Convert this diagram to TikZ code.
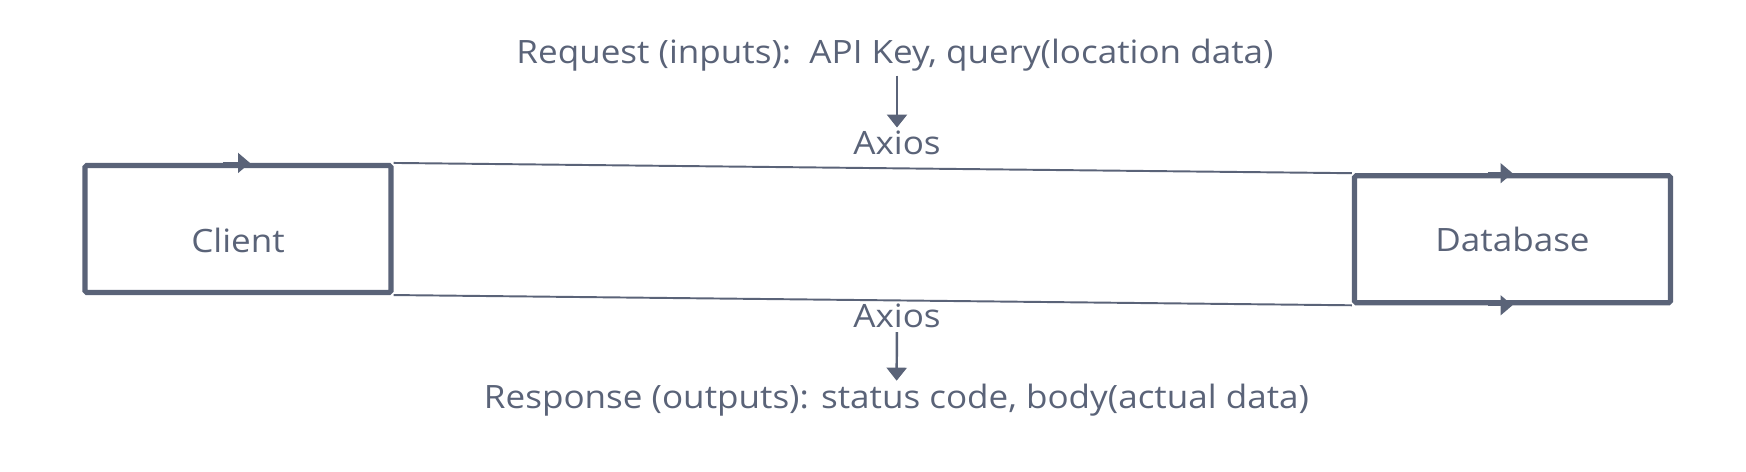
\documentclass[tikz,border=0pt]{standalone}
\usepackage{fontspec}
\setmainfont{Open Sans}[FakeStretch=1.09]
\usetikzlibrary{arrows.meta,positioning}
\definecolor{slateline}{HTML}{5A6378}
\tikzset{
  sysbox/.style={draw=slateline,line width=2.9pt,rounded corners=1pt,minimum height=2.54cm,inner sep=0pt,text=slateline,font=\fontsize{18.3}{22}\selectfont},
  lbl/.style={text=slateline,font=\fontsize{18.3}{22}\selectfont,inner sep=2pt},
  link/.style={draw=slateline,line width=1.1pt},
  flow/.style={-{Triangle[length=2.6mm,width=4mm]},draw=slateline,line width=1.4pt},
  edgeflow/.style={-{Triangle[length=2.4mm,width=4mm]},draw=slateline,line width=1pt},
}
\begin{document}
\begin{tikzpicture}
  \useasboundingbox (0,0) rectangle (34.92,9.44);
  \node[sysbox,minimum width=6.12cm,text height=9.6mm,text depth=0pt] (cl) at (4.76,4.86) {Client};
  \node[sysbox,minimum width=6.32cm] (db) at (30.25,4.655) {Database};
  \draw[link] (cl.north east)--(db.north west);
  \draw[link] (cl.south east)--(db.south west);
  % arrow tips sitting on the box edges
  \draw[edgeflow] ([xshift=-3mm]cl.north)--([xshift=2.4mm]cl.north);
  \draw[edgeflow] ([xshift=-5mm]db.north)--(db.north);
  \draw[edgeflow] ([xshift=-5mm]db.south)--(db.south);
  \node[lbl,anchor=base] (req) at (17.9,8.16) {Request (inputs):\ \ API Key, query(location data)};
  \node[lbl,anchor=base] (ax1) at (17.94,6.34) {Axios};
  \node[lbl,anchor=base] (ax2) at (17.94,2.88) {Axios};
  \node[lbl,anchor=base] (resp) at (17.93,1.26) {Response (outputs): status code, body(actual data)};
  \draw[flow] (req.south -| ax1)--(ax1.north);
  \draw[flow] (ax2)--(resp);
\end{tikzpicture}
\end{document}
